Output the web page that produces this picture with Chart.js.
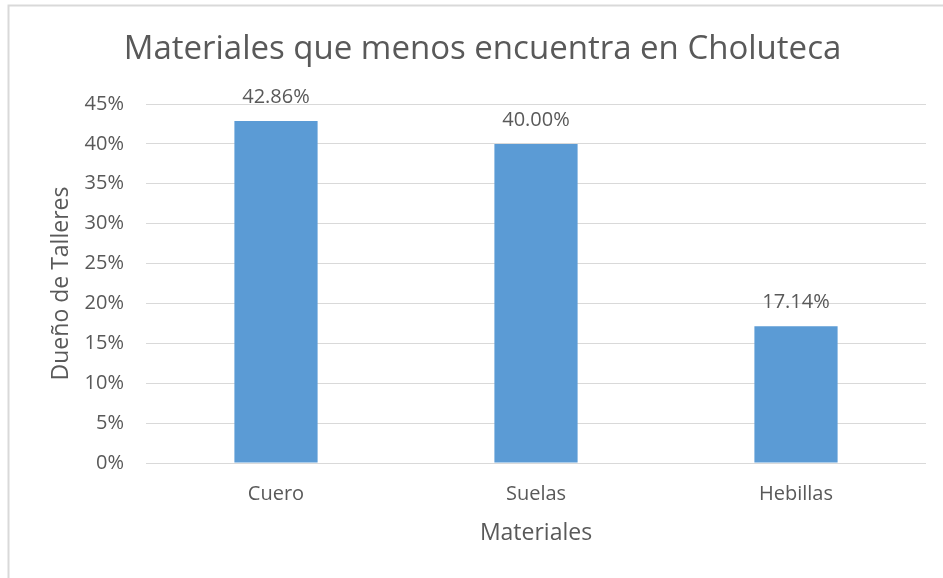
<!DOCTYPE html>
<html>
<head>
<meta charset="utf-8">
<script src="https://cdn.jsdelivr.net/npm/chart.js@4"></script>
<style>
  html, body { margin: 0; padding: 0; background: #ffffff; }
  #wrap { position: relative; width: 943px; height: 578px; }
</style>
</head>
<body>
<div id="wrap"><canvas id="chart" width="943" height="578"></canvas></div>
<script>
// Materials that workshop owners find least often in Choluteca (share of owners, %)
const categories = ['Cuero', 'Suelas', 'Hebillas'];
const shares = [42.86, 40.00, 17.14];
const yTicks = [0, 5, 10, 15, 20, 25, 30, 35, 40, 45];

const TEXT = '#595959';
const GRID = '#D9D9D9';
const BAR = '#5B9BD5';
const FONT = "'Open Sans', sans-serif";

// Light frame around the chart (top and left edges)
const framePlugin = {
  id: 'frame',
  beforeDraw(chart) {
    const ctx = chart.ctx;
    ctx.save();
    ctx.fillStyle = '#ffffff';
    ctx.fillRect(0, 0, chart.width, chart.height);
    ctx.strokeStyle = GRID;
    ctx.lineWidth = 2;
    ctx.beginPath();
    ctx.moveTo(8.5, chart.height + 2);
    ctx.lineTo(8.5, 5.5);
    ctx.lineTo(chart.width + 2, 5.5);
    ctx.stroke();
    ctx.restore();
  }
};

// Shift the title box so the heading sits where the layout wants it
const titlePlace = {
  id: 'titlePlace',
  afterLayout(chart) {
    const t = chart.titleBlock;
    if (t) { t.left = 39; t.right = 926; }
  }
};

// Percentage labels above each bar
const valueLabels = {
  id: 'valueLabels',
  afterDatasetsDraw(chart) {
    const ctx = chart.ctx;
    const meta = chart.getDatasetMeta(0);
    ctx.save();
    ctx.fillStyle = TEXT;
    ctx.font = '20px ' + FONT;
    ctx.textAlign = 'center';
    ctx.textBaseline = 'alphabetic';
    meta.data.forEach((bar, i) => {
      ctx.fillText(shares[i].toFixed(2) + '%', bar.x, bar.y - 18);
    });
    ctx.restore();
  }
};

new Chart(document.getElementById('chart'), {
  type: 'bar',
  data: {
    labels: categories,
    datasets: [{
      data: shares,
      backgroundColor: BAR,
      borderWidth: 0,
      categoryPercentage: 1,
      barPercentage: 0.32
    }]
  },
  options: {
    responsive: false,
    animation: false,
    events: [],
    layout: { padding: { left: 0, right: 17, top: 0, bottom: 0 } },
    plugins: {
      legend: { display: false },
      tooltip: { enabled: false },
      title: {
        display: true,
        text: 'Materiales que menos encuentra en Choluteca',
        color: TEXT,
        font: { family: FONT, size: 33, weight: 'normal' },
        padding: { top: 30, bottom: 34.4 }
      }
    },
    scales: {
      x: {
        grid: { display: false, drawTicks: false },
        border: { display: false },
        ticks: { color: TEXT, font: { family: FONT, size: 20 }, padding: 19 },
        title: {
          display: true,
          text: 'Materiales',
          color: TEXT,
          font: { family: FONT, size: 23 },
          padding: { top: 0, bottom: 31 }
        },
        afterFit(scale) { scale.height = 115; }
      },
      y: {
        min: 0,
        max: 45,
        afterBuildTicks(scale) { scale.ticks = yTicks.map(v => ({ value: v })); },
        grid: { color: GRID, lineWidth: 1, drawTicks: false },
        border: { display: false },
        ticks: {
          color: TEXT,
          font: { family: FONT, size: 20 },
          padding: 22,
          callback: v => v + '%'
        },
        title: {
          display: true,
          text: 'Dueño de Talleres',
          color: TEXT,
          font: { family: FONT, size: 23 },
          padding: { top: 48, bottom: 0 }
        },
        afterFit(scale) { scale.width = 146; }
      }
    }
  },
  plugins: [framePlugin, titlePlace, valueLabels]
});
</script>
</body>
</html>
